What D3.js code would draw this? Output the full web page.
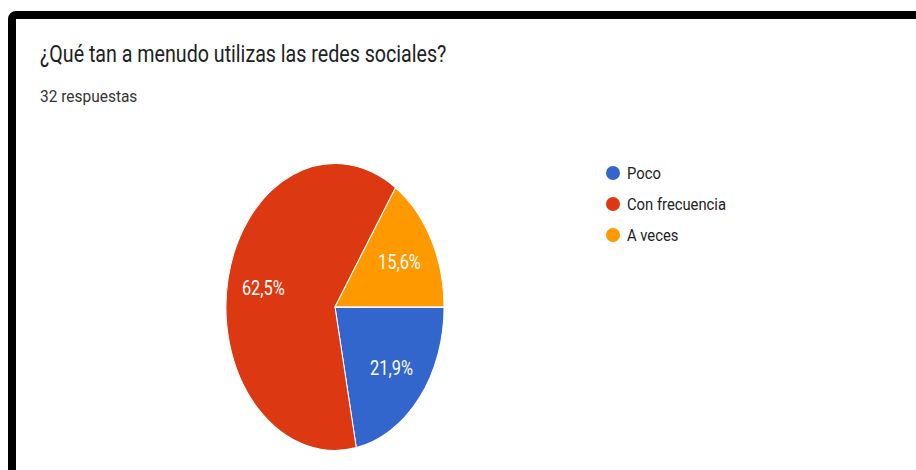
<!DOCTYPE html>
<html>
<head>
<meta charset="utf-8">
<script src="https://cdn.jsdelivr.net/npm/d3@7"></script>
<style>
  body { margin: 0; background: #fff; }
  text { font-family: Roboto, Arial, sans-serif; }
</style>
</head>
<body>
<svg id="chart" width="916" height="470"></svg>
<script>
// data (32 answers)
const categories = ["Poco", "Con frecuencia", "A veces"];
const counts = [7, 20, 5];
const colors = ["#3366cc", "#dc3912", "#ff9900"];
const title = "¿Qué tan a menudo utilizas las redes sociales?";
const subtitle = "32 respuestas";

const svg = d3.select("#chart");
const W = 916, H = 470;

// black frame (screenshot border)
svg.append("rect")
    .attr("x", 12).attr("y", 15)
    .attr("width", W + 20).attr("height", H + 20)
    .attr("rx", 4)
    .style("fill", "#fff")
    .style("stroke", "#000")
    .style("stroke-width", 8);

// picture is squashed horizontally
const sx = 0.76;
const textSx = 0.87;

svg.append("text")
    .attr("transform", "translate(40,62) scale(0.855,1)")
    .text(title)
    .style("font-size", "23px")
    .style("fill", "#202124");

svg.append("text")
    .attr("transform", "translate(40,102) scale(0.91,1)")
    .text(subtitle)
    .style("font-size", "17px")
    .style("fill", "#333");

// pie
const cx = 335, cy = 307, R = 143.5;
const total = d3.sum(counts);
const pie = d3.pie().sort(null)
    .startAngle(Math.PI / 2).endAngle(Math.PI / 2 + 2 * Math.PI);
const arcs = pie(counts);
const arc = d3.arc().innerRadius(0).outerRadius(R);
const labelArc = d3.arc().innerRadius(R * 0.67).outerRadius(R * 0.67);

const g = svg.append("g")
    .attr("transform", "translate(" + cx + "," + cy + ") scale(" + sx + ",1)");

g.selectAll("path")
    .data(arcs)
    .enter()
    .append("path")
    .attr("d", arc)
    .style("fill", (d, i) => colors[i])
    .style("stroke", "#fff")
    .style("stroke-width", 1.3);

const fmt = v => d3.format(".1f")(v).replace(".", ",") + "%";
g.selectAll("text.pct")
    .data(arcs)
    .enter()
    .append("text")
    .attr("class", "pct")
    .attr("transform", d => {
        const c = labelArc.centroid(d);
        return "translate(" + c[0] + "," + c[1] + ") scale(" + (0.82 / sx) + ",1)";
    })
    .attr("dy", "0.36em")
    .attr("text-anchor", "middle")
    .text(d => fmt(d.data / total * 100))
    .style("font-size", "20px")
    .style("fill", "#fff");

// legend
const legendY = d3.scalePoint().domain(categories).range([173, 235]);
const legend = svg.append("g");
categories.forEach((c, i) => {
    legend.append("circle")
        .attr("cx", 613).attr("cy", legendY(c)).attr("r", 7)
        .style("fill", colors[i]);
    legend.append("text")
        .attr("transform", "translate(627," + legendY(c) + ") scale(" + textSx + ",1)")
        .attr("dy", "0.36em")
        .text(c)
        .style("font-size", "17px")
        .style("fill", "#222");
});
</script>
</body>
</html>
